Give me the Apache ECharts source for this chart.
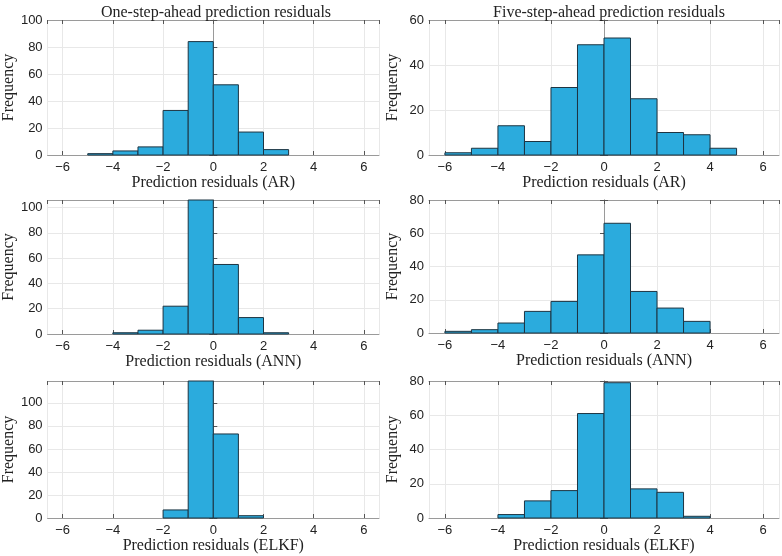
<!DOCTYPE html>
<html><head><meta charset="utf-8">
<script src="https://cdn.jsdelivr.net/npm/echarts@6/dist/echarts.min.js"></script>
<style>html,body{margin:0;padding:0;background:#fff}#c{width:782px;height:556px}</style>
</head><body><div id="c"></div>
<script>
// Histogram data: first bin left edge, bin width 1, counts per bin
const titles = ["One-step-ahead prediction residuals", "Five-step-ahead prediction residuals"];
const xLabels = ["Prediction residuals (AR)", "Prediction residuals (AR)",
                 "Prediction residuals (ANN)", "Prediction residuals (ANN)",
                 "Prediction residuals (ELKF)", "Prediction residuals (ELKF)"];
const binStart = [-5, -6, -4, -6, -2, -4];
const oneAR   = [1, 3, 6, 33, 84, 52, 17, 4];
const fiveAR  = [1, 3, 13, 6, 30, 49, 52, 25, 10, 9, 3];
const oneANN  = [1, 3, 22, 106, 55, 13, 1];
const fiveANN = [1, 2, 6, 13, 19, 47, 66, 25, 15, 7];
const oneELKF = [7, 119, 73, 2];
const fiveELKF= [2, 10, 16, 61, 79, 17, 15, 1];
const yMax = [100, 60, 106, 80, 119, 80];
const xMin = -6.6, xMax = 6.6;

const counts = [oneAR, fiveAR, oneANN, fiveANN, oneELKF, fiveELKF];
const grids = [
  {left:44, top:20, width:335, height:135},
  {left:429, top:20, width:350, height:135},
  {left:44, top:200, width:335, height:134},
  {left:429, top:200, width:350, height:133},
  {left:44, top:381, width:335, height:137},
  {left:429, top:381, width:350, height:137}
];
const serif = "Liberation Serif";
const sans = "Liberation Sans";
const frame = '#9a9a9a';
const minus = v => String(v).replace('-', '\u2212');

const xAxis = [], yAxis = [], series = [];
grids.forEach((g, i) => {
  xAxis.push({
    gridIndex:i, type:'value', min:xMin, max:xMax, splitNumber:6, position:'bottom',
    name: xLabels[i], nameLocation:'middle', nameGap:20,
    nameTextStyle:{fontFamily:serif, fontSize:16, color:'#222'},
    axisLine:{show:true, onZero:false, lineStyle:{color:frame, width:1}},
    axisTick:{show:true, inside:true, length:4, lineStyle:{color:'#555'}},
    axisLabel:{fontFamily:sans, fontSize:13, color:'#222', margin:6, showMinLabel:false, showMaxLabel:false, formatter:minus},
    splitLine:{show:true, lineStyle:{color:'#e8e8e8', width:1}}
  });
  xAxis.push({
    gridIndex:i, type:'value', min:xMin, max:xMax, splitNumber:6, position:'top',
    axisLine:{show:true, onZero:false, lineStyle:{color:frame, width:1}},
    axisTick:{show:true, inside:true, length:4, lineStyle:{color:'#555'}},
    axisLabel:{show:false}, splitLine:{show:false}
  });
  yAxis.push({
    gridIndex:i, type:'value', min:0, max:yMax[i], interval:20, position:'left',
    name:'Frequency', nameLocation:'middle', nameGap:28,
    nameTextStyle:{fontFamily:serif, fontSize:16, color:'#222'},
    axisLine:{show:true, lineStyle:{color:frame, width:1}},
    axisTick:{show:true, inside:true, length:4, lineStyle:{color:'#555'}},
    axisLabel:{fontFamily:sans, fontSize:13, color:'#222', margin:5, showMaxLabel: (yMax[i] % 20 === 0)},
    splitLine:{show:true, lineStyle:{color:'#e8e8e8', width:1}}
  });
  yAxis.push({
    gridIndex:i, type:'value', min:0, max:yMax[i], interval:20, position:'right',
    axisLine:{show:true, lineStyle:{color:frame, width:1}},
    axisTick:{show:true, inside:true, length:4, lineStyle:{color:'#555'}},
    axisLabel:{show:false}, splitLine:{show:false}
  });
  const data = counts[i].map((c, k) => [binStart[i] + k, binStart[i] + k + 1, c]);
  series.push({
    type:'custom', xAxisIndex:2*i, yAxisIndex:2*i, data:data, encode:{x:[0,1], y:2},
    renderItem:(params, api) => {
      const p0 = api.coord([api.value(0), api.value(2)]);
      const p1 = api.coord([api.value(1), 0]);
      return {type:'rect', shape:{x:p0[0], y:p0[1], width:p1[0]-p0[0], height:p1[1]-p0[1]},
        style:{fill:'#2BABDD', stroke:'#1d3442', lineWidth:1}};
    }
  });
});

const chart = echarts.init(document.getElementById('c'), null, {renderer:'canvas'});
chart.setOption({
  animation:false,
  backgroundColor:'#fff',
  title:[
    {text:titles[0], left:211, top:0, textAlign:'center', textStyle:{fontFamily:serif, fontSize:16, fontWeight:'normal', color:'#222'}},
    {text:titles[1], left:604, top:0, textAlign:'center', textStyle:{fontFamily:serif, fontSize:16, fontWeight:'normal', color:'#222'}}
  ],
  grid:grids, xAxis:xAxis, yAxis:yAxis, series:series
});
</script></body></html>
